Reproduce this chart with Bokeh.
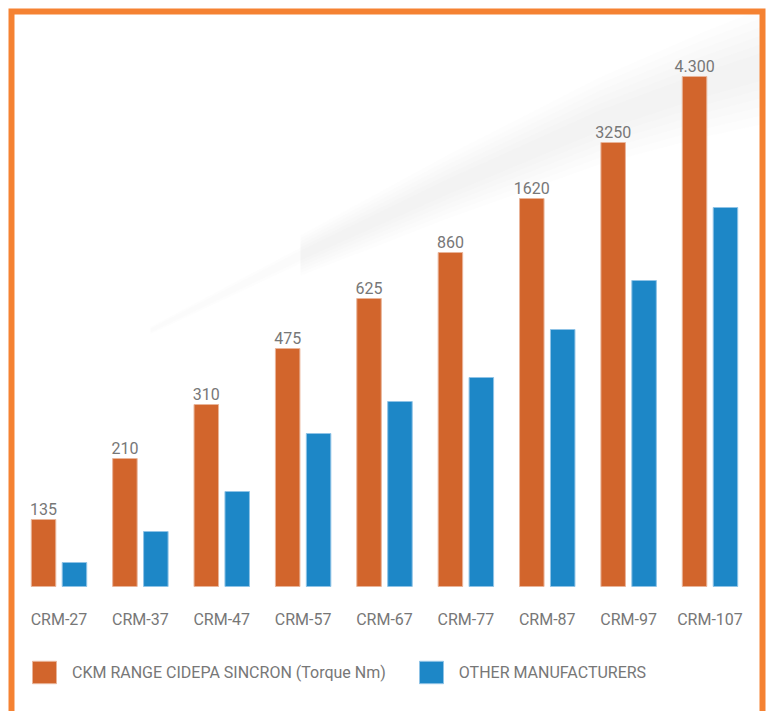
from bokeh.plotting import figure
from bokeh.models import Range1d, Legend, LegendItem, BoxAnnotation
from bokeh.embed import file_html
from bokeh.resources import INLINE
from bokeh.core.properties import value
import numpy as np

# ---- data ----
categories = ["CRM-27", "CRM-37", "CRM-47", "CRM-57", "CRM-67",
              "CRM-77", "CRM-87", "CRM-97", "CRM-107"]
# drawn bar heights (relative units as measured on the chart)
ckm_heights = [67, 128, 182, 238, 288, 334, 388, 444, 510]
other_heights = [24, 55, 95, 153, 185, 209, 257, 306, 379]
ckm_labels = ["135", "210", "310", "475", "625", "860", "1620", "3250", "4.300"]
series_names = ["CKM RANGE CIDEPA SINCRON (Torque Nm)", "OTHER MANUFACTURERS"]

ORANGE = "#D2652C"
BLUE = "#1D87C7"
FRAME = "#F58232"
TXT = "#777777"
FONT = "Roboto"

W, H = 771, 711
STEP = 81.375          # px per category
X0 = -58.5 / STEP      # x range start
BASE = 586             # baseline (px from top)


def px_x(px):
    return X0 + px / STEP


def px_y(py):
    return BASE - py


x = np.arange(len(categories))

p = figure(width=W, height=H,
           x_range=Range1d(X0, X0 + W / STEP), y_range=Range1d(BASE - H, BASE),
           x_axis_type=None, y_axis_type=None,
           output_backend="svg", toolbar_location=None,
           min_border=0)
p.grid.visible = False
p.outline_line_color = None
p.border_fill_color = "white"
p.background_fill_color = "white"

# very faint grey sky band in the background (decoration), built from soft layers
centre = [(150, 330), (300, 255), (450, 185), (600, 120), (700, 85), (765, 65)]
half = [6, 14, 22, 30, 36, 40]
for k in range(6):
    f = 0.35 + 0.22 * k
    pts = centre[min(k // 2, 1):]
    hw = half[min(k // 2, 1):]
    xs = [px_x(px) for px, py in pts] + [px_x(px) for px, py in reversed(pts)]
    ys = ([px_y(py - h * f) for (px, py), h in zip(pts, hw)] +
          [px_y(py + h * f) for (px, py), h in zip(reversed(pts), reversed(hw))])
    p.patch(xs, ys, fill_color="#dfe2e8", fill_alpha=0.07, line_color=None)

r1 = p.vbar(x=x - 0.19, top=ckm_heights, bottom=0, width=0.301,
            fill_color=ORANGE, line_color="#e9b499", line_width=1)
r2 = p.vbar(x=x + 0.19, top=other_heights, bottom=0, width=0.301,
            fill_color=BLUE, line_color="#8fc3e6", line_width=1)

p.text(x=x - 0.19, y=np.array(ckm_heights) + 11, text=ckm_labels,
       text_align="center", text_baseline="alphabetic",
       text_font=value(FONT), text_font_size="16px", text_color=TXT)

p.text(x=x, y=[-33] * len(categories), text=categories,
       text_align="center", text_baseline="alphabetic",
       text_font=value(FONT), text_font_size="16px", text_color=TXT)

legend = Legend(items=[LegendItem(label=series_names[0], renderers=[r1]),
                       LegendItem(label=series_names[1], renderers=[r2])],
                orientation="horizontal", location=(29, 25),
                glyph_width=30, glyph_height=28, label_standoff=13,
                label_width=313, spacing=30, padding=0, margin=0,
                border_line_color=None, background_fill_alpha=0,
                label_text_font=FONT, label_text_font_size="16px",
                label_text_color=TXT)
p.add_layout(legend)

# orange frame around the chart
p.add_layout(BoxAnnotation(left=px_x(11), right=px_x(762), top=px_y(11), bottom=px_y(760),
                           fill_alpha=0, line_color=FRAME, line_alpha=1.0,
                           line_width=6, line_join="miter"))

open("out.html", "w").write(file_html(p, INLINE))
